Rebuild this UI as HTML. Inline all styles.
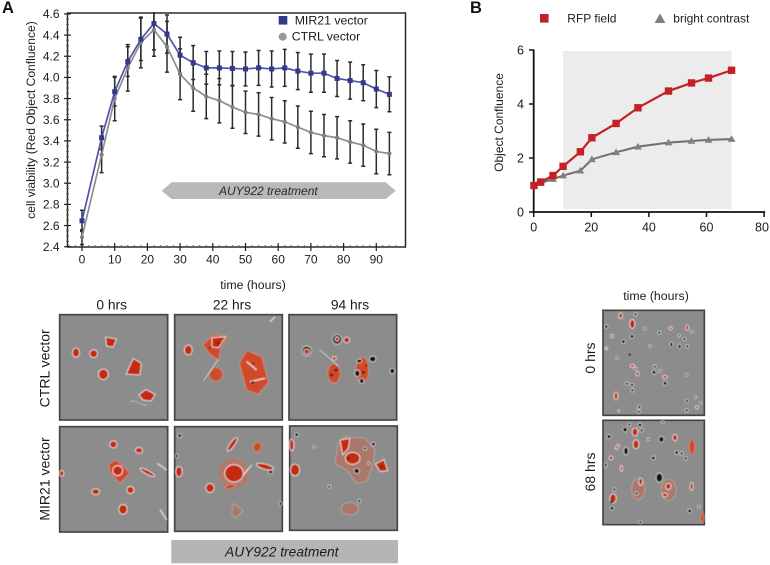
<!DOCTYPE html>
<html lang="en">
<head>
<meta charset="utf-8">
<title>MIR21 confluence figure</title>
<style>
html,body{margin:0;padding:0;background:#fff;}
#fig{display:block;width:770px;height:565px;font-family:"Liberation Sans",sans-serif;}
text{font-family:"Liberation Sans",sans-serif;fill:#1c1c1c;}
.c{fill:#c4290f;stroke:#ece9e6;stroke-width:2.5;stroke-linejoin:round;}
.o{fill:#d24a2a;stroke:#c4907f;stroke-width:3;stroke-linejoin:round;}
.p{fill:#a9786b;stroke:#c0b2ac;stroke-width:2;stroke-linejoin:round;}
.h{fill:#d8674a;opacity:.5;}
.d{fill:#120d0d;stroke:#e9e9e9;stroke-width:2;}
.k{fill:#2a1512;}
.n{stroke:#e4e4e4;stroke-width:4;fill:none;}
.m{stroke:#333;stroke-width:1.6;fill:none;}
.f{fill:#8c8c8c;stroke:#444;stroke-width:5;}
</style>
</head>
<body>
<svg id="fig" xmlns="http://www.w3.org/2000/svg" width="770" height="565" viewBox="0 0 770 565">
<defs>
<filter id="soft" x="-5%" y="-5%" width="110%" height="110%"><feGaussianBlur stdDeviation="1.6"/></filter>
<clipPath id="plot-clip"><rect x="62" y="12" width="345" height="236"/></clipPath>
</defs>

<text x="2" y="13" font-size="16.5" font-weight="bold" style="fill:#111">A</text>
<text x="470" y="13" font-size="16.5" font-weight="bold" style="fill:#111">B</text>

<g id="chart-a"></g>
<g id="chart-b"></g>

<!-- Chart A labels -->
<text transform="translate(35,120) rotate(-90)" text-anchor="middle" font-size="12.1">cell viability (Red Object Confluence)</text>
<text x="253" y="289" text-anchor="middle" font-size="12.3">time (hours)</text>
<rect x="278.7" y="16" width="8.6" height="8.6" fill="#33388f"/>
<text x="294.7" y="24.3" font-size="12.3">MIR21 vector</text>
<circle cx="282.7" cy="36.7" r="4" fill="#999"/>
<text x="291.7" y="40.3" font-size="12.3">CTRL vector</text>
<polygon points="161.7,190.7 171.7,182.3 385.7,182.3 395.7,190.7 385.7,199 171.7,199" fill="#b9b9b9"/>
<text x="219" y="194.8" font-size="12" font-style="italic" style="fill:#2a2a2a">AUY922 treatment</text>

<!-- Chart B labels -->
<text transform="translate(503,122.5) rotate(-90)" text-anchor="middle" font-size="12">Object Confluence</text>
<rect x="540" y="14" width="8.6" height="8.6" fill="#c42127"/>
<text x="567.3" y="22.3" font-size="12">RFP field</text>
<polygon points="660,13.5 665.5,23 654.5,23" fill="#808080"/>
<text x="673.3" y="22.3" font-size="12">bright contrast</text>

<!-- Micrograph headings -->
<text x="111.7" y="309.3" text-anchor="middle" font-size="13.8">0 hrs</text>
<text x="232" y="309.3" text-anchor="middle" font-size="13.8">22 hrs</text>
<text x="350" y="309.3" text-anchor="middle" font-size="13.8">94 hrs</text>
<text transform="translate(49.3,368.3) rotate(-90)" text-anchor="middle" font-size="14">CTRL vector</text>
<text transform="translate(49.3,479) rotate(-90)" text-anchor="middle" font-size="14">MIR21 vector</text>
<rect x="171.3" y="540" width="226.7" height="23.3" fill="#b5b5b5"/>
<text x="225" y="556.7" font-size="13.8" font-style="italic" style="fill:#1c1c1c">AUY922 treatment</text>
<text x="656" y="300" text-anchor="middle" font-size="12.3">time (hours)</text>
<text transform="translate(595,358) rotate(-90)" text-anchor="middle" font-size="14">0 hrs</text>
<text transform="translate(595,472) rotate(-90)" text-anchor="middle" font-size="14">68 hrs</text>

<!-- Micrographs, upper row: coordinates are in a 3x space -->
<g transform="translate(30,295) scale(0.33333)">
  <g>
    <rect class="f" x="89" y="59" width="324" height="316"/>
    <g filter="url(#soft)">
      <ellipse class="c" cx="138" cy="173" rx="11" ry="14"/><ellipse class="c" cx="191" cy="176" rx="12" ry="12"/>
      <path class="c" d="M226 126 L260 132 L250 156 L230 154 Z"/>
      <path class="c" d="M288 238 L310 190 L334 205 L330 240 Z"/>
      <ellipse class="c" cx="220" cy="238" rx="15" ry="16"/>
      <path class="c" d="M326 300 L348 283 L376 298 L364 318 L340 316 Z"/>
      <path class="n" d="M304 318 L350 330"/><path class="m" d="M306 320 L348 328"/>
    </g>
  </g>
  <g>
    <rect class="f" x="434" y="59" width="323" height="316"/>
    <g filter="url(#soft)">
      <ellipse class="c" cx="475" cy="165" rx="12" ry="15"/>
      <path class="o" d="M518 150 L550 118 L594 125 L572 160 L566 196 L540 178 Z"/>
      <path class="c" d="M546 128 L587 125 L566 158 L546 156 Z"/>
      <ellipse class="o" cx="558" cy="238" rx="20" ry="21"/>
      <path class="o" d="M628 205 L650 166 L695 185 L716 262 L685 298 L650 286 Z"/>
      <path class="n" d="M522 258 L565 195"/><path class="m" d="M524 258 L566 197"/>
      <path class="n" d="M720 80 L735 66"/>
      <path class="n" d="M650 200 L680 225"/><path class="n" d="M660 260 L705 250"/>
      <circle class="k" cx="540" cy="158" r="3"/><circle class="k" cx="565" cy="145" r="3"/><circle class="k" cx="668" cy="262" r="4"/><circle class="k" cx="670" cy="205" r="3"/>
    </g>
  </g>
  <g>
    <rect class="f" x="777" y="59" width="323" height="316"/>
    <g filter="url(#soft)">
      <ellipse class="d" cx="830" cy="168" rx="15" ry="15"/><ellipse class="c" cx="830" cy="170" rx="9" ry="8"/>
      <ellipse class="d" cx="921" cy="133" rx="14" ry="15"/><ellipse class="c" cx="921" cy="132" rx="6" ry="7"/>
      <ellipse class="c" cx="950" cy="135" rx="9" ry="9"/>
      <ellipse class="o" cx="912" cy="235" rx="19" ry="29"/>
      <ellipse class="o" cx="997" cy="225" rx="19" ry="39"/>
      <ellipse class="d" cx="1028" cy="192" rx="10" ry="9"/><ellipse class="d" cx="1087" cy="228" rx="8" ry="8"/>
      <ellipse class="d" cx="982" cy="235" rx="8" ry="10"/><ellipse class="d" cx="995" cy="258" rx="7" ry="8"/><ellipse class="d" cx="988" cy="198" rx="8" ry="6"/>
      <ellipse class="c" cx="913" cy="190" rx="6" ry="6"/>
      <path class="n" d="M868 165 L925 215"/><path class="m" d="M868 167 L925 217"/>
      <circle class="k" cx="905" cy="240" r="4"/><circle class="k" cx="918" cy="225" r="4"/><circle class="k" cx="1000" cy="232" r="4"/><circle class="k" cx="1008" cy="212" r="3"/>
    </g>
  </g>
</g>

<!-- Micrographs, lower row -->
<g transform="translate(30,420) scale(0.33333)">
  <g>
    <rect class="f" x="89" y="20" width="324" height="316"/>
    <g filter="url(#soft)">
      <ellipse class="c" cx="250" cy="73" rx="11" ry="11"/><ellipse class="c" cx="327" cy="91" rx="11" ry="9"/>
      <path class="o" d="M238 130 L258 120 L300 158 L270 190 L238 155 Z"/>
      <ellipse class="c" cx="263" cy="152" rx="15" ry="15"/>
      <ellipse class="c" cx="352" cy="157" rx="25" ry="6" transform="rotate(28 352 157)"/>
      <ellipse class="c" cx="197" cy="215" rx="12" ry="9"/><ellipse class="c" cx="301" cy="210" rx="11" ry="11"/>
      <ellipse class="c" cx="279" cy="268" rx="13" ry="15"/><ellipse class="c" cx="95" cy="160" rx="7" ry="9"/>
      <path class="n" d="M382 130 L410 150"/><path class="n" d="M390 268 L410 300"/>
    </g>
  </g>
  <g>
    <rect class="f" x="434" y="20" width="323" height="314"/>
    <g filter="url(#soft)">
      <ellipse class="c" cx="607" cy="73" rx="25" ry="7" transform="rotate(-55 607 73)"/>
      <ellipse class="o" cx="682" cy="81" rx="12" ry="15" transform="rotate(20 682 81)"/>
      <ellipse class="h" cx="612" cy="160" rx="46" ry="44"/>
      <ellipse class="c" cx="612" cy="160" rx="28" ry="26"/>
      <ellipse class="c" cx="705" cy="140" rx="27" ry="8" transform="rotate(15 705 140)"/>
      <ellipse class="c" cx="540" cy="204" rx="13" ry="14"/>
      <ellipse class="o" cx="600" cy="200" rx="15" ry="7" transform="rotate(-15 600 200)"/>
      <ellipse class="c" cx="447" cy="155" rx="10" ry="16"/>
      <path class="p" d="M610 250 L640 272 L615 296 L605 280 Z"/>
      <ellipse class="d" cx="449" cy="47" rx="6" ry="6"/><ellipse class="d" cx="440" cy="108" rx="5" ry="5"/><ellipse class="d" cx="752" cy="251" rx="5" ry="6"/><ellipse class="d" cx="722" cy="156" rx="6" ry="6"/>
      <path class="n" d="M640 165 L665 135"/>
    </g>
  </g>
  <g>
    <rect class="f" x="779" y="18" width="323" height="313"/>
    <g filter="url(#soft)">
      <path class="p" d="M925 70 L945 50 L1005 55 L1035 90 L1030 130 L1010 185 L980 190 L950 150 L915 130 Z"/>
      <path class="c" d="M930 60 L960 55 L955 85 L938 105 Z"/>
      <ellipse class="c" cx="968" cy="115" rx="22" ry="18"/>
      <path class="c" d="M1036 132 L1062 118 L1074 152 L1050 155 Z"/>
      <ellipse class="c" cx="795" cy="150" rx="14" ry="18"/>
      <ellipse class="c" cx="785" cy="75" rx="7" ry="18"/>
      <ellipse class="p" cx="960" cy="266" rx="26" ry="19"/>
      <ellipse class="d" cx="980" cy="153" rx="8" ry="8"/><ellipse class="d" cx="1030" cy="72" rx="6" ry="6"/><ellipse class="d" cx="1005" cy="85" rx="5" ry="5"/><ellipse class="d" cx="988" cy="243" rx="5" ry="5"/>
      <ellipse class="d" cx="800" cy="44" rx="6" ry="6"/><ellipse class="d" cx="852" cy="80" rx="4" ry="4"/><ellipse class="d" cx="898" cy="200" rx="5" ry="5"/><ellipse class="d" cx="1016" cy="130" rx="4" ry="4"/>
      <circle class="k" cx="955" cy="115" r="3"/><circle class="k" cx="1055" cy="140" r="3"/>
    </g>
  </g>
</g>

<!-- Panel B micrographs -->
<g transform="translate(570,285) scale(0.33333)">
  <g>
    <rect class="f" x="99" y="76" width="304" height="315"/>
    <g filter="url(#soft)">
      <ellipse class="c" cx="152" cy="92" rx="6" ry="9"/><ellipse class="c" cx="187" cy="117" rx="8" ry="14"/><ellipse class="d" cx="197" cy="88" rx="5" ry="5"/>
      <ellipse class="d" cx="109" cy="125" rx="5" ry="6"/><ellipse class="c" cx="126" cy="153" rx="5" ry="5"/><ellipse class="d" cx="186" cy="154" rx="6" ry="6"/>
      <ellipse class="d" cx="160" cy="170" rx="6" ry="6"/><ellipse class="d" cx="224" cy="131" rx="4" ry="4"/><ellipse class="d" cx="268" cy="143" rx="5" ry="5"/>
      <ellipse class="c" cx="302" cy="130" rx="5" ry="5"/><ellipse class="c" cx="352" cy="128" rx="5" ry="8"/><ellipse class="d" cx="365" cy="140" rx="4" ry="4"/>
      <ellipse class="d" cx="327" cy="152" rx="4" ry="4"/><ellipse class="d" cx="343" cy="162" rx="5" ry="5"/><ellipse class="d" cx="352" cy="184" rx="5" ry="5"/>
      <ellipse class="d" cx="304" cy="178" rx="5" ry="7"/><ellipse class="d" cx="329" cy="184" rx="5" ry="7"/><ellipse class="d" cx="240" cy="184" rx="4" ry="4"/>
      <ellipse class="c" cx="109" cy="190" rx="4" ry="4"/><ellipse class="d" cx="142" cy="218" rx="4" ry="4"/><ellipse class="k" cx="179" cy="209" rx="3" ry="3"/>
      <ellipse class="c" cx="187" cy="243" rx="7" ry="5"/><ellipse class="d" cx="197" cy="250" rx="4" ry="4"/><ellipse class="c" cx="203" cy="266" rx="5" ry="7"/>
      <ellipse class="d" cx="254" cy="245" rx="5" ry="5"/><ellipse class="d" cx="252" cy="262" rx="6" ry="6"/><ellipse class="d" cx="270" cy="258" rx="4" ry="4"/>
      <ellipse class="c" cx="285" cy="276" rx="7" ry="5"/><ellipse class="d" cx="285" cy="295" rx="6" ry="6"/><ellipse class="d" cx="350" cy="270" rx="4" ry="4"/>
      <ellipse class="d" cx="171" cy="296" rx="5" ry="5"/><ellipse class="d" cx="186" cy="300" rx="5" ry="5"/><ellipse class="d" cx="187" cy="316" rx="5" ry="5"/>
      <ellipse class="c" cx="138" cy="333" rx="6" ry="12"/><ellipse class="d" cx="208" cy="366" rx="5" ry="5"/><ellipse class="d" cx="206" cy="380" rx="5" ry="5"/>
      <ellipse class="d" cx="146" cy="378" rx="3" ry="3"/><ellipse class="d" cx="351" cy="348" rx="5" ry="5"/><ellipse class="d" cx="350" cy="376" rx="5" ry="5"/>
      <ellipse class="d" cx="377" cy="337" rx="4" ry="4"/><ellipse class="d" cx="392" cy="354" rx="4" ry="4"/><ellipse class="c" cx="381" cy="367" rx="5" ry="5"/>
    </g>
  </g>
  <g>
    <rect class="f" x="99" y="406" width="304" height="313"/>
    <g filter="url(#soft)">
      <ellipse class="d" cx="165" cy="434" rx="7" ry="7"/><ellipse class="d" cx="178" cy="418" rx="5" ry="5"/><ellipse class="d" cx="210" cy="420" rx="6" ry="6"/>
      <ellipse class="c" cx="195" cy="441" rx="9" ry="12"/><ellipse class="d" cx="215" cy="436" rx="5" ry="5"/><ellipse class="c" cx="198" cy="478" rx="9" ry="14"/>
      <ellipse class="d" cx="278" cy="411" rx="5" ry="4"/><ellipse class="d" cx="117" cy="455" rx="7" ry="6"/><ellipse class="d" cx="235" cy="463" rx="4" ry="4"/>
      <ellipse class="d" cx="274" cy="463" rx="8" ry="9"/><ellipse class="c" cx="315" cy="458" rx="7" ry="10"/><ellipse class="o" cx="366" cy="486" rx="9" ry="22"/>
      <ellipse class="d" cx="320" cy="503" rx="6" ry="6"/><ellipse class="d" cx="335" cy="505" rx="5" ry="5"/><ellipse class="d" cx="348" cy="520" rx="5" ry="5"/>
      <ellipse class="c" cx="142" cy="486" rx="4" ry="9" transform="rotate(35 142 486)"/><ellipse class="d" cx="168" cy="498" rx="7" ry="12"/><ellipse class="c" cx="123" cy="519" rx="6" ry="6"/>
      <ellipse class="d" cx="250" cy="519" rx="6" ry="6"/><ellipse class="c" cx="154" cy="550" rx="4" ry="9"/><ellipse class="d" cx="107" cy="540" rx="4" ry="8"/>
      <ellipse class="p" cx="205" cy="612" rx="20" ry="32"/><ellipse class="c" cx="212" cy="590" rx="6" ry="11"/><ellipse class="d" cx="200" cy="625" rx="5" ry="5"/>
      <ellipse class="d" cx="268" cy="578" rx="10" ry="14"/><ellipse class="p" cx="296" cy="615" rx="22" ry="32"/><ellipse class="c" cx="295" cy="604" rx="8" ry="10"/><ellipse class="c" cx="285" cy="630" rx="8" ry="6"/>
      <ellipse class="c" cx="365" cy="604" rx="5" ry="12"/><ellipse class="c" cx="129" cy="640" rx="10" ry="14"/><ellipse class="d" cx="133" cy="613" rx="5" ry="5"/>
      <ellipse class="d" cx="126" cy="670" rx="6" ry="6"/><ellipse class="k" cx="125" cy="650" rx="4" ry="4"/><ellipse class="d" cx="359" cy="678" rx="6" ry="6"/>
      <ellipse class="d" cx="387" cy="665" rx="4" ry="4"/><ellipse class="o" cx="397" cy="698" rx="6" ry="14"/><ellipse class="d" cx="211" cy="711" rx="5" ry="5"/>
    </g>
  </g>
</g>

<script>
// Chart A data
var aHours = [0,6,10,14,18,22,26,30,34,38,42,46,50,54,58,62,66,70,74,78,82,86,90,94];
var mir21Values = [2.645,3.43,3.865,4.15,4.36,4.51,4.41,4.21,4.14,4.09,4.09,4.085,4.08,4.09,4.08,4.09,4.06,4.04,4.04,3.99,3.97,3.95,3.89,3.84];
var mir21Errors = [0.10,0.11,0.135,0.14,0.20,0.25,0.18,0.17,0.16,0.155,0.16,0.16,0.16,0.165,0.17,0.175,0.175,0.18,0.18,0.17,0.175,0.17,0.175,0.165];
var ctrlValues = [2.49,3.27,3.80,4.09,4.33,4.45,4.29,4.03,3.90,3.82,3.78,3.72,3.67,3.65,3.61,3.58,3.53,3.48,3.45,3.43,3.39,3.36,3.30,3.28];
var ctrlErrors = [0.07,0.17,0.21,0.22,0.24,0.25,0.24,0.24,0.22,0.21,0.21,0.20,0.20,0.205,0.20,0.20,0.20,0.20,0.20,0.20,0.20,0.20,0.21,0.20];
var aYTicks = [2.4,2.6,2.8,3.0,3.2,3.4,3.6,3.8,4.0,4.2,4.4,4.6];
var aXTicks = [0,10,20,30,40,50,60,70,80,90];
// Chart B data
var bHours = [0.1,2.4,6.7,10.2,16.2,20.2,28.6,36.2,46.8,54.8,60.7,68.7];
var rfpValues = [0.98,1.11,1.35,1.69,2.23,2.75,3.28,3.86,4.48,4.78,4.96,5.25];
var brightValues = [1.0,1.07,1.22,1.35,1.53,1.95,2.21,2.42,2.57,2.63,2.67,2.70];
var bYTicks = [0,2,4,6];
var bXTicks = [0,20,40,60,80];
var bShadeRange = [10.2,68.7];

var NS = 'http://www.w3.org/2000/svg';
function mk(parent, tag, attrs, txt) {
  var el = document.createElementNS(NS, tag);
  for (var k in attrs) { el.setAttribute(k, attrs[k]); }
  if (txt !== undefined) { el.textContent = txt; }
  parent.appendChild(el);
  return el;
}
function ax(h) { return 82 + 3.27 * h; }
function ay(v) { return 246.7 - (v - 2.4) * 105.8; }
function bx(h) { return 533.7 + 2.88 * h; }
function by(v) { return 212 - 27 * v; }
function fmt(v) { return v.toFixed(1); }

var a = document.getElementById('chart-a');
var b = document.getElementById('chart-b');
var el, i;

// Chart A frame
el = mk(a, 'rect', {x:67.5, y:13, width:338, height:234, fill:'none', stroke:'#2a2a2a', 'stroke-width':1.5});



// Minor ticks
for (var mv = 2.4; mv < 4.6; mv += 0.05) {
  el = mk(a, 'line', {x1:66, x2:69, y1:ay(mv), y2:ay(mv), stroke:'#6b6b2a', 'stroke-width':1});
  
  
}
for (var mh = -4; mh < 98; mh += 2) {
  el = mk(a, 'line', {x1:ax(mh), x2:ax(mh), y1:245, y2:248, stroke:'#6b6b2a', 'stroke-width':1});
  
  
}
// Y ticks
aYTicks.forEach(function (t) {
  var tick = mk(a, 'line', {x1:64, x2:71, y1:ay(t), y2:ay(t), stroke:'#222', 'stroke-width':1.2});
  
  
  var lab = mk(a, 'text', {x:59.5, y:ay(t) + 4.3, 'text-anchor':'end', 'font-size':12}, fmt(t));
  
  
});
// X ticks
aXTicks.forEach(function (t) {
  var tick = mk(a, 'line', {x1:ax(t), x2:ax(t), y1:243, y2:251, stroke:'#222', 'stroke-width':1.2});
  
  
  var lab = mk(a, 'text', {x:ax(t), y:263.3, 'text-anchor':'middle', 'font-size':12}, String(t));
  
  
});

// Error bars
var errs = mk(a, 'g', {'clip-path':'url(#plot-clip)'});


function drawErr(vals, es, name) {
  for (var j = 0; j < aHours.length; j++) {
    var x = ax(aHours[j]);
    var top = ay(vals[j] + es[j]);
    var bot = ay(vals[j] - es[j]);
    var g = mk(errs, 'path', {
      d: 'M' + x + ' ' + top + 'V' + bot + 'M' + (x - 2) + ' ' + top + 'H' + (x + 2) + 'M' + (x - 2) + ' ' + bot + 'H' + (x + 2),
      stroke: '#2b2b2b', 'stroke-width': 1.5, fill: 'none'
    });
    
    
  }
}
drawErr(ctrlValues, ctrlErrors, 'ctrl-error-bar');
drawErr(mir21Values, mir21Errors, 'mir21-error-bar');

function linePts(xs, ys, fx, fy) {
  return xs.map(function (x, j) { return fx(x) + ',' + fy(ys[j]); }).join(' ');
}
// CTRL series
el = mk(a, 'polyline', {points:linePts(aHours, ctrlValues, ax, ay), fill:'none', stroke:'#8d8d8d', 'stroke-width':1.7});


for (i = 0; i < aHours.length; i++) {
  el = mk(a, 'circle', {cx:ax(aHours[i]), cy:ay(ctrlValues[i]), r:2.1, fill:'#7f7f7f'});
  
  
}
// MIR21 series
el = mk(a, 'polyline', {points:linePts(aHours, mir21Values, ax, ay), fill:'none', stroke:'#5252ad', 'stroke-width':1.7});


for (i = 0; i < aHours.length; i++) {
  el = mk(a, 'rect', {x:ax(aHours[i]) - 2.5, y:ay(mir21Values[i]) - 2.5, width:5, height:5, fill:'#33388f'});
  
  
}

// Chart B shading
el = mk(b, 'rect', {x:bx(bShadeRange[0]), y:51, width:bx(bShadeRange[1]) - bx(bShadeRange[0]), height:158, fill:'#ececec'});


// Chart B axes
el = mk(b, 'line', {x1:533.7, x2:533.7, y1:49.5, y2:213, stroke:'#111', 'stroke-width':1.8});


el = mk(b, 'line', {x1:533, x2:bx(80) + 1, y1:212, y2:212, stroke:'#111', 'stroke-width':1.8});


bYTicks.forEach(function (t) {
  var tick = mk(b, 'line', {x1:529, x2:533.7, y1:by(t), y2:by(t), stroke:'#111', 'stroke-width':1.5});
  
  
  var lab = mk(b, 'text', {x:524, y:by(t) + 4.4, 'text-anchor':'end', 'font-size':12.5}, String(t));
  
  
});
bXTicks.forEach(function (t) {
  var tick = mk(b, 'line', {x1:bx(t), x2:bx(t), y1:212, y2:217, stroke:'#111', 'stroke-width':1.5});
  
  
  var lab = mk(b, 'text', {x:Math.min(bx(t), 762), y:231.7, 'text-anchor':'middle', 'font-size':12.5}, String(t));
  
  
});
// Bright contrast series
el = mk(b, 'polyline', {points:linePts(bHours, brightValues, bx, by), fill:'none', stroke:'#6f6f6f', 'stroke-width':2});


for (i = 0; i < bHours.length; i++) {
  var tx = bx(bHours[i]), ty = by(brightValues[i]);
  el = mk(b, 'polygon', {points:tx + ',' + (ty - 3.8) + ' ' + (tx + 3.9) + ',' + (ty + 2.8) + ' ' + (tx - 3.9) + ',' + (ty + 2.8), fill:'#808080'});
  
  
}
// RFP series
el = mk(b, 'polyline', {points:linePts(bHours, rfpValues, bx, by), fill:'none', stroke:'#c42127', 'stroke-width':2.2});


for (i = 0; i < bHours.length; i++) {
  el = mk(b, 'rect', {x:bx(bHours[i]) - 3.7, y:by(rfpValues[i]) - 3.7, width:7.4, height:7.4, fill:'#c42127'});
  
  
}
</script>
</svg>
</body>
</html>
